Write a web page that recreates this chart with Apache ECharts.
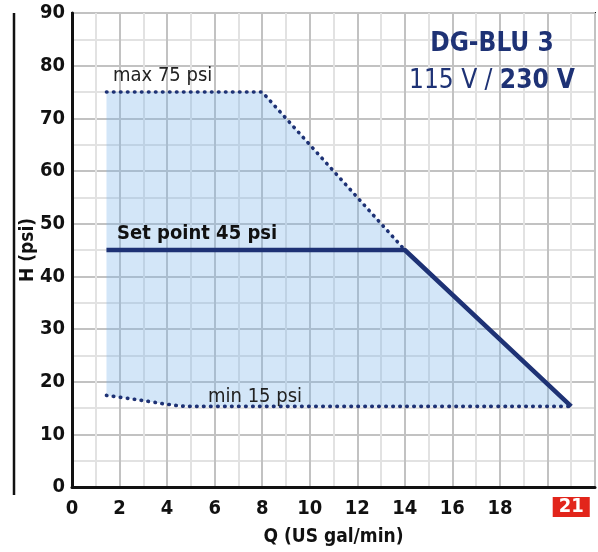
<!DOCTYPE html>
<html>
<head>
<meta charset="utf-8">
<script src="https://cdn.jsdelivr.net/npm/echarts@6/dist/echarts.min.js"></script>
<style>
  html, body { margin: 0; padding: 0; background: #fff; }
  #chart { width: 598px; height: 552px; }
</style>
</head>
<body>
<div id="chart"></div>
<script>
// pump curve data (Q in US gal/min, H in psi)
var maxQ = [1.45, 8, 14];
var maxH = [75, 75, 45];
var minQ = [1.45, 2.4, 3.3, 4.1, 5, 21];
var minH = [17.4, 16.8, 16.2, 15.65, 15.3, 15.3];
var setQ = [1.45, 14, 21];
var setH = [45, 45, 15.3];
// working area polygon
var fillQ = [1.45, 8, 14, 21, 5, 4.1, 3.3, 2.4, 1.45];
var fillH = [75, 75, 45, 15.3, 15.3, 15.65, 16.2, 16.8, 17.4];
// tick labels
var xLabels = [0, 2, 4, 6, 8, 10, 12, 14, 16, 18];
var xMarked = 21;

var FONT = '"Liberation Sans Narrow", "DejaVu Sans Condensed", sans-serif';
var NAVY = '#1e3275';

function pairs(xs, ys) {
    return xs.map(function (x, i) { return [x, ys[i]]; });
}

var chart = echarts.init(document.getElementById('chart'));

var option = {
    animation: false,
    grid: {
        left: 72, right: 3, top: 13, bottom: 56,
        show: true, borderColor: '#111', borderWidth: 2
    },
    xAxis: {
        type: 'value', min: 0, max: 22, interval: 1,
        name: 'Q (US gal/min)', nameLocation: 'middle', nameGap: 41, nameMoveOverlap: false,
        nameTextStyle: { fontFamily: FONT, fontWeight: 'bold', fontSize: 19, color: '#111' },
        axisLine: { lineStyle: { color: '#111', width: 3 } },
        axisTick: { show: false },
        axisLabel: {
            interval: 0, margin: 12,
            fontFamily: FONT, fontWeight: 'bold', fontSize: 20, color: '#111',
            formatter: function (v) {
                if (v === xMarked) return '{red|' + v + '}';
                return xLabels.indexOf(v) >= 0 ? String(v) : '';
            },
            rich: {
                red: {
                    backgroundColor: '#e2251b', color: '#fff',
                    fontFamily: FONT, fontWeight: 'bold', fontSize: 20,
                    padding: [0, 6, 0, 6], lineHeight: 16
                }
            }
        },
        splitLine: { show: true, lineStyle: { color: ['#c2c2c2', '#e2e2e2'], width: 2 } }
    },
    yAxis: {
        type: 'value', min: 0, max: 90, interval: 5,
        name: 'H (psi)', nameLocation: 'middle', nameGap: 34, nameMoveOverlap: false,
        nameTextStyle: { fontFamily: FONT, fontWeight: 'bold', fontSize: 19, color: '#111' },
        axisLine: { show: true, lineStyle: { color: '#111', width: 3 } },
        axisTick: { show: false },
        axisLabel: {
            margin: 7, fontFamily: FONT, fontWeight: 'bold', fontSize: 20, color: '#111',
            formatter: function (v) { return v % 10 === 0 ? String(v) : ''; }
        },
        splitLine: { show: true, lineStyle: { color: ['#c2c2c2', '#e2e2e2'], width: 2 } }
    },
    graphic: [
        // decorative bar left of the y-axis name
        { type: 'line', z: 100, shape: { x1: 14, y1: 13, x2: 14, y2: 495 }, style: { stroke: '#111', lineWidth: 2.5 } },
        {
            type: 'text', z: 100, style: {
                text: 'DG-BLU 3', x: 492, y: 44, align: 'center', verticalAlign: 'middle',
                font: 'bold 26px ' + FONT, fill: NAVY
            }
        },
        {
            type: 'text', z: 100, style: {
                x: 492, y: 81, align: 'center', verticalAlign: 'middle',
                text: '{n|115 V / }{b|230 V}',
                rich: {
                    n: { fontFamily: FONT, fontSize: 26, fill: NAVY },
                    b: { fontFamily: FONT, fontSize: 26, fontWeight: 'bold', fill: NAVY }
                }
            }
        },
        { type: 'text', z: 100, style: { x: 113, y: 76, verticalAlign: 'middle', text: 'max 75 psi', font: '20px ' + FONT, fill: '#222' } },
        { type: 'text', z: 100, style: { x: 117, y: 234, verticalAlign: 'middle', text: 'Set point 45 psi', font: 'bold 20px ' + FONT, fill: '#111' } },
        { type: 'text', z: 100, style: { x: 208, y: 397, verticalAlign: 'middle', text: 'min 15 psi', font: '20px ' + FONT, fill: '#222' } }
    ],
    series: [
        {
            type: 'custom',
            data: pairs(fillQ, fillH),
            clip: true,
            z: 1,
            renderItem: function (params, api) {
                if (params.dataIndex !== 0) return null;
                var pts = fillQ.map(function (q, i) { return api.coord([q, fillH[i]]); });
                return { type: 'polygon', shape: { points: pts }, style: { fill: 'rgba(120,180,235,0.33)' } };
            }
        },
        {
            type: 'line', data: pairs(maxQ, maxH), symbol: 'none', z: 3,
            lineStyle: { color: NAVY, width: 3.6, type: [0.5, 6.5], cap: 'round' }
        },
        {
            type: 'line', data: pairs(minQ, minH), symbol: 'none', smooth: 0.4, z: 3,
            lineStyle: { color: NAVY, width: 3.6, type: [0.5, 6.5], cap: 'round' }
        },
        {
            type: 'line', data: pairs(setQ, setH), symbol: 'none', z: 4,
            lineStyle: { color: NAVY, width: 4.5 }
        }
    ]
};

chart.setOption(option);
</script>
</body>
</html>
